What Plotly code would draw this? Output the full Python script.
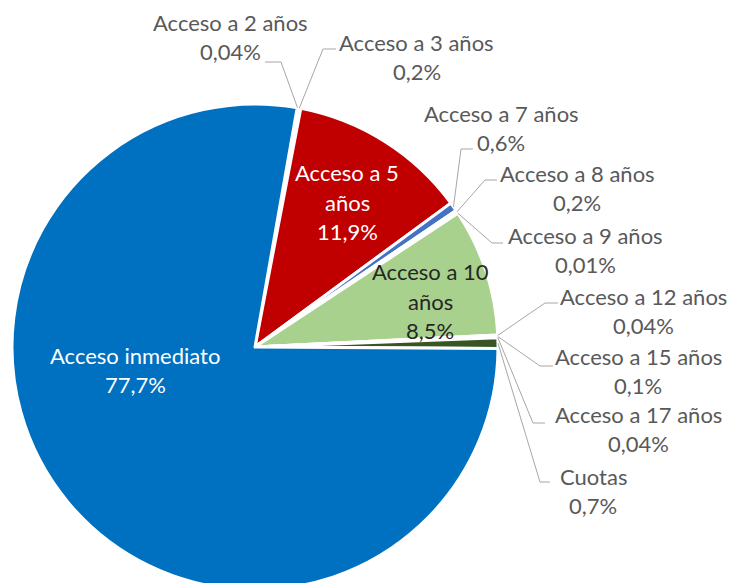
import math
import plotly.graph_objects as go

# Datos del gráfico
categorias = ["Acceso a 2 años", "Acceso a 3 años", "Acceso a 5 años", "Acceso a 7 años",
              "Acceso a 8 años", "Acceso a 9 años", "Acceso a 10 años", "Acceso a 12 años",
              "Acceso a 15 años", "Acceso a 17 años", "Cuotas", "Acceso inmediato"]
porcentajes = [0.04, 0.2, 11.9, 0.6, 0.2, 0.01, 8.5, 0.04, 0.1, 0.04, 0.7, 77.7]
colores = ["#ED7D31", "#A5A5A5", "#C00000", "#4472C4", "#5B9BD5", "#264478",
           "#A9D18E", "#70AD47", "#548235", "#43682B", "#375623", "#0070C0"]

W, H = 729, 600
CX, CY, R = 255, 347, 243      # centro y radio de la tarta en px
ROTACION = 10

# posicion de cada etiqueta (centro del bloque), codo de la guia y fin del tramo horizontal
etiquetas_fuera = {
    "Acceso a 2 años": ((230, 37), (281, 62), (265, 62)),
    "Acceso a 3 años": ((417, 57), (323, 49), (336, 49)),
    "Acceso a 7 años": ((501, 128), (461, 149), (473, 149)),
    "Acceso a 8 años": ((577, 188), (485, 180), (497, 180)),
    "Acceso a 9 años": ((585, 250), (492, 243), (503, 243)),
    "Acceso a 12 años": ((643, 311), (545, 303), (558, 303)),
    "Acceso a 15 años": ((638, 371), (540, 366), (553, 366)),
    "Acceso a 17 años": ((638, 429), (533, 423), (545, 423)),
    "Cuotas": ((593, 491), (540, 482), (550, 482)),
}
etiquetas_dentro = {
    "Acceso inmediato": ((135, 370), False, "white"),
    "Acceso a 5 años": ((347, 202), True, "white"),
    "Acceso a 10 años": ((430, 301), True, "#262626"),
}
INTERLINEA = 29.5
FUENTE = "Lato"


def paper(x, y):
    return x / W, 1 - y / H


def fmt(v):
    return str(v).replace(".", ",") + "%"


fig = go.Figure(go.Pie(
    labels=categorias,
    values=porcentajes,
    sort=False,
    direction="clockwise",
    rotation=ROTACION,
    textinfo="none",
    marker=dict(colors=colores, line=dict(color="white", width=3)),
    domain=dict(x=[(CX - R) / W, (CX + R) / W], y=[1 - (CY + R) / H, 1 - (CY - R) / H]),
    showlegend=False,
))

# puntos de anclaje de las guias en el borde de cada porcion
total = sum(porcentajes)
acum = 0
anclas = {}
for cat, v in zip(categorias, porcentajes):
    ang = math.radians(ROTACION + 360 * (acum + v / 2) / total)
    anclas[cat] = (CX + R * math.sin(ang), CY - R * math.cos(ang))
    acum += v

valor = dict(zip(categorias, porcentajes))
anotaciones = []
formas = []


def bloque(lineas, centro, color):
    cx, cy = centro
    n = len(lineas)
    for i, t in enumerate(lineas):
        x, y = paper(cx, cy + (i - (n - 1) / 2) * INTERLINEA)
        anotaciones.append(dict(x=x, y=y, xref="paper", yref="paper", text=t, showarrow=False,
                                xanchor="center", yanchor="middle",
                                font=dict(family=FUENTE, size=22, color=color)))


for cat, (centro, codo, fin) in etiquetas_fuera.items():
    bloque([cat, fmt(valor[cat])], centro, "#595959")
    pts = [paper(*anclas[cat]), paper(*codo), paper(*fin)]
    path = "M {},{} L {},{} L {},{}".format(*[c for p in pts for c in p])
    formas.append(dict(type="path", path=path, xref="paper", yref="paper",
                       line=dict(color="#A6A6A6", width=1)))

for cat, (centro, partir, color) in etiquetas_dentro.items():
    lineas = cat.rsplit(" ", 1) if partir else [cat]
    bloque(lineas + [fmt(valor[cat])], centro, color)

fig.update_layout(
    width=W, height=H,
    margin=dict(l=0, r=0, t=0, b=0),
    paper_bgcolor="white",
    annotations=anotaciones,
    shapes=formas,
)

# la tarta se sale por abajo, como en el original: sin margen ni barras en la pagina
fig.write_html("out.html",
               config={"displayModeBar": False},
               post_script="document.body.style.margin='0';document.body.style.overflow='hidden';")
